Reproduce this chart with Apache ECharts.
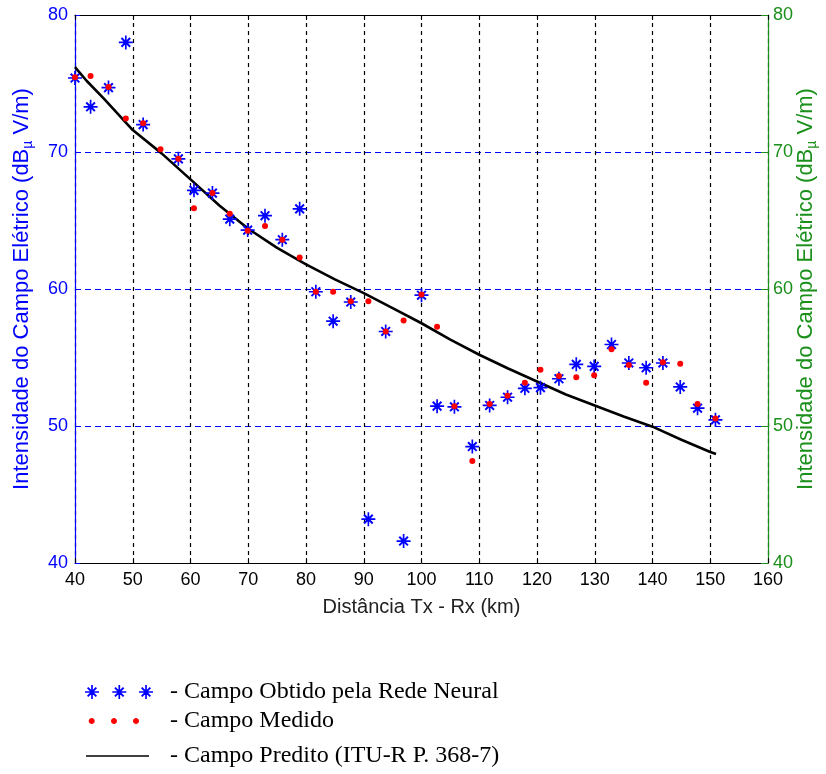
<!DOCTYPE html>
<html>
<head>
<meta charset="utf-8">
<script src="https://cdn.jsdelivr.net/npm/echarts@6/dist/echarts.min.js"></script>
<style>
html,body{margin:0;padding:0;background:#fff;}
#chart{width:826px;height:774px;}
</style>
</head>
<body>
<div id="chart"></div>
<script>
// ---- data ----
var distances = [40.0, 42.7, 45.8, 48.8, 51.8, 54.8, 57.9, 60.6, 63.8, 66.8, 69.9, 72.9, 75.9, 78.9, 81.7, 84.7, 87.75, 90.8, 93.8, 96.9, 100.0, 102.7, 105.7, 108.8, 111.8, 114.9, 117.9, 120.6, 123.8, 126.8, 129.9, 132.9, 135.9, 138.9, 141.8, 144.8, 147.8, 150.9];
var neuralField = [75.4, 73.3, 74.7, 78.0, 72.0, null, 69.5, 67.2, 67.0, 65.1, 64.3, 65.35, 63.6, 65.85, 59.8, 57.65, 59.05, 43.2, 56.9, 41.6, 59.55, 51.45, 51.4, 48.5, 51.5, 52.1, 52.75, 52.8, 53.45, 54.5, 54.35, 55.95, 54.6, 54.25, 54.6, 52.85, 51.3, 50.45];
var measuredField = [75.45, 75.55, 74.75, 72.45, 72.1, 70.2, 69.5, 65.9, 67.0, 65.5, 64.25, 64.6, 63.6, 62.3, 59.8, 59.8, 59.1, 59.1, 56.9, 57.7, 59.6, 57.25, 51.45, 47.45, 51.6, 52.2, 53.15, 54.1, 53.65, 53.55, 53.7, 55.6, 54.45, 53.15, 54.65, 54.55, 51.6, 50.55];
var predKm = [40, 42, 45, 50, 55, 60, 65, 70, 75, 80, 85, 90, 95, 100, 105, 110, 115, 120, 125, 130, 135, 140, 145, 150, 151];
var predField = [76.2, 75.2, 73.9, 71.6, 69.9, 68.0, 66.1, 64.4, 63.0, 61.8, 60.7, 59.7, 58.6, 57.5, 56.3, 55.2, 54.2, 53.25, 52.3, 51.5, 50.7, 49.95, 49.0, 48.1, 47.95];
var xTicks = [40, 160, 10];   // min, max, interval
var yTicks = [40, 80, 10];
var seriesNames = ['Campo Obtido pela Rede Neural', 'Campo Medido', 'Campo Predito (ITU-R P. 368-7)'];

// ---- helpers ----
function starPath(cx, cy, r) {
  var w = r * 0.12, d = r * 0.62, e = r * 0.1, c = r * 0.24;
  function f(v){ return (+v.toFixed(3)); }
  var p = '';
  p += 'M' + f(cx - r) + ',' + f(cy - w) + ' L' + f(cx + r) + ',' + f(cy - w) + ' L' + f(cx + r) + ',' + f(cy + w) + ' L' + f(cx - r) + ',' + f(cy + w) + ' Z ';
  p += 'M' + f(cx - w) + ',' + f(cy - r) + ' L' + f(cx + w) + ',' + f(cy - r) + ' L' + f(cx + w) + ',' + f(cy + r) + ' L' + f(cx - w) + ',' + f(cy + r) + ' Z ';
  p += 'M' + f(cx - d + e) + ',' + f(cy - d - e) + ' L' + f(cx + d + e) + ',' + f(cy + d - e) + ' L' + f(cx + d - e) + ',' + f(cy + d + e) + ' L' + f(cx - d - e) + ',' + f(cy - d + e) + ' Z ';
  p += 'M' + f(cx + d - e) + ',' + f(cy - d - e) + ' L' + f(cx + d + e) + ',' + f(cy - d + e) + ' L' + f(cx - d + e) + ',' + f(cy + d + e) + ' L' + f(cx - d - e) + ',' + f(cy + d - e) + ' Z ';
  p += 'M' + f(cx - c) + ',' + f(cy - c) + ' L' + f(cx + c) + ',' + f(cy - c) + ' L' + f(cx + c) + ',' + f(cy + c) + ' L' + f(cx - c) + ',' + f(cy + c) + ' Z ';
  return p;
}
function circlePath(cx, cy, r) {
  var n = 16, p = '';
  for (var i = 0; i < n; i++) {
    var a = 2 * Math.PI * i / n;
    p += (i === 0 ? 'M' : ' L') + (cx + r * Math.cos(a)).toFixed(3) + ',' + (cy + r * Math.sin(a)).toFixed(3);
  }
  return p + ' Z ';
}
function pairs(xs, ys) {
  var out = [];
  for (var i = 0; i < xs.length; i++) if (ys[i] !== null) out.push([xs[i], ys[i]]);
  return out;
}

var starSymbol = 'path://' + starPath(10, 10, 10);
var legendStars = 'path://' + starPath(7, 7, 7) + starPath(34.3, 7, 7) + starPath(61, 7, 7);
var legendDots = 'path://' + circlePath(3, 3, 3) + circlePath(25.3, 3, 3) + circlePath(47.3, 3, 3);
var legendLine = 'path://M0,0 L63,0 L63,1.5 L0,1.5 Z';

var BLUE = '#0000ff', GREEN = '#1a901a', SANS = 'Liberation Sans, Arial, sans-serif', SERIF = 'Liberation Serif, Times New Roman, serif';
var yName = 'Intensidade do Campo Elétrico (dB{s|µ} V/m)';

var legendText = function (pad) {
  return { fontFamily: SERIF, fontSize: 24, color: '#000', padding: [0, 0, 0, pad] };
};
var fmt = function (n) { return '- ' + n; };

var chart = echarts.init(document.getElementById('chart'), null, { renderer: 'canvas' });
chart.setOption({
  animation: false,
  backgroundColor: '#fff',
  grid: { left: 75, right: 58, top: 15, bottom: 211, containLabel: false, outerBoundsMode: 'none' },
  legend: [
    { left: 85, top: 680, padding: 0, itemWidth: 68, itemHeight: 14, selectedMode: false,
      data: [{ name: seriesNames[0], icon: legendStars }], formatter: fmt, textStyle: legendText(12) },
    { left: 88.7, top: 709, padding: 0, itemWidth: 50.3, itemHeight: 6, selectedMode: false,
      data: [{ name: seriesNames[1], icon: legendDots }], formatter: fmt, textStyle: legendText(26) },
    { left: 86, top: 744, padding: 0, itemWidth: 63, itemHeight: 14, selectedMode: false,
      data: [{ name: seriesNames[2], icon: legendLine }], formatter: fmt, textStyle: legendText(16) }
  ],
  xAxis: [
    {
      type: 'value', min: xTicks[0], max: xTicks[1], interval: xTicks[2], position: 'bottom',
      name: 'Distância Tx - Rx (km)', nameLocation: 'middle', nameGap: 34, nameMoveOverlap: false,
      nameTextStyle: { color: '#222', fontSize: 20, fontFamily: SANS },
      axisLine: { lineStyle: { color: '#000', width: 1 } },
      axisTick: { inside: true, length: 5, lineStyle: { color: '#000' } },
      axisLabel: { color: '#000', fontSize: 18, fontFamily: SANS, margin: 8 },
      splitLine: { show: true, lineStyle: { color: '#000', width: 1.2, type: [4, 4] } }
    },
    {
      type: 'value', min: xTicks[0], max: xTicks[1], interval: xTicks[2], position: 'top',
      axisLine: { lineStyle: { color: '#000', width: 1 } },
      axisTick: { inside: true, length: 5, lineStyle: { color: '#000' } },
      axisLabel: { show: false }, splitLine: { show: false }
    }
  ],
  yAxis: [
    {
      type: 'value', min: yTicks[0], max: yTicks[1], interval: yTicks[2], position: 'left',
      name: yName, nameLocation: 'middle', nameGap: 40, nameMoveOverlap: false,
      nameTextStyle: { color: BLUE, fontSize: 22, fontFamily: SANS,
        rich: { s: { color: BLUE, fontSize: 14, fontFamily: SANS, padding: [12, 0, 0, 0] } } },
      axisLine: { lineStyle: { color: BLUE, width: 1.2 } },
      axisTick: { inside: true, length: 5, lineStyle: { color: BLUE } },
      axisLabel: { color: BLUE, fontSize: 18, fontFamily: SANS, margin: 7 },
      splitLine: { show: true, lineStyle: { color: BLUE, width: 1.2, type: [6, 4] } }
    },
    {
      type: 'value', min: yTicks[0], max: yTicks[1], interval: yTicks[2], position: 'right',
      name: yName, nameLocation: 'middle', nameGap: 25, nameMoveOverlap: false,
      nameTextStyle: { color: GREEN, fontSize: 22, fontFamily: SANS,
        rich: { s: { color: GREEN, fontSize: 14, fontFamily: SANS, padding: [12, 0, 0, 0] } } },
      axisLine: { lineStyle: { color: GREEN, width: 1.2 } },
      axisTick: { inside: true, length: 7, lineStyle: { color: GREEN } },
      axisLabel: { color: GREEN, fontSize: 18, fontFamily: SANS, margin: 5 },
      splitLine: { show: false }
    }
  ],
  series: [
    {
      name: seriesNames[2], type: 'line', xAxisIndex: 0, yAxisIndex: 0,
      data: pairs(predKm, predField), symbol: 'none', smooth: false, z: 2,
      lineStyle: { color: '#000', width: 2.6 }, itemStyle: { color: '#000' }
    },
    {
      name: seriesNames[0], type: 'scatter', xAxisIndex: 0, yAxisIndex: 0,
      data: pairs(distances, neuralField), symbol: starSymbol, symbolSize: 14, z: 3,
      itemStyle: { color: BLUE, opacity: 1 }
    },
    {
      name: seriesNames[1], type: 'scatter', xAxisIndex: 0, yAxisIndex: 0,
      data: pairs(distances, measuredField), symbol: 'circle', symbolSize: 6, z: 4,
      itemStyle: { color: '#ff0000', opacity: 1 }
    }
  ]
});
</script>
</body>
</html>
